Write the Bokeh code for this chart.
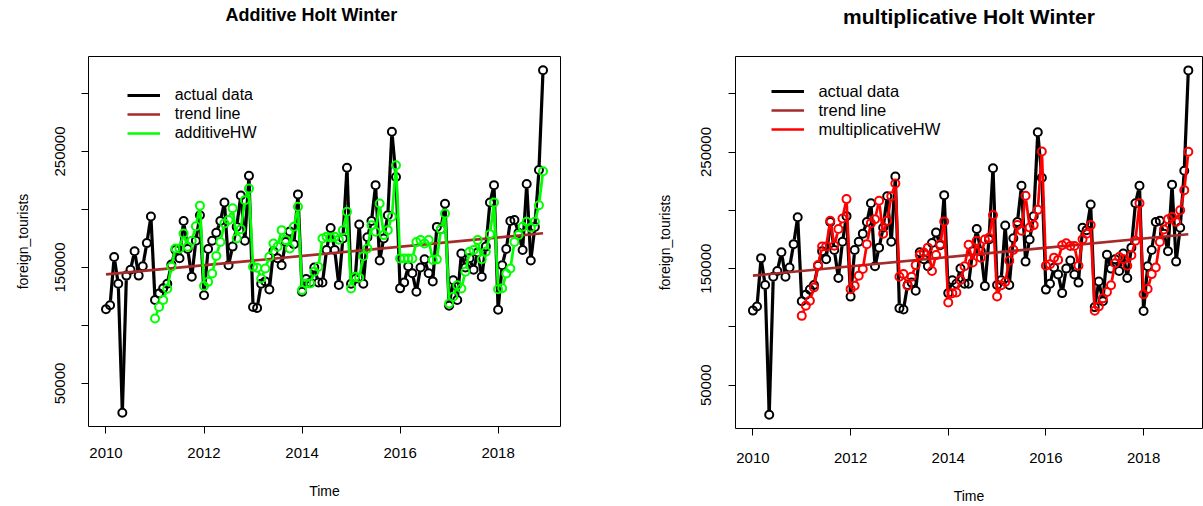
import math
import numpy as np
from bokeh.plotting import figure
from bokeh.models import (Range1d, FixedTicker, Legend, LegendItem, Title,
                          ColumnDataSource, BasicTickFormatter)
from bokeh.layouts import row
from bokeh.embed import file_html
from bokeh.resources import INLINE

# ---------------- data ----------------
start_year = 2010
fit_start = 12  # Holt-Winters fitted values start one season later

actual = [
    114000, 117500, 159000, 136000, 24700, 143000, 148000, 164000, 143000, 151000, 171000, 194000,
    122000, 127500, 132000, 136000, 152500, 165000, 158000, 190000, 166000, 142000, 173000, 195000,
    126000, 166000, 173000, 180000, 190000, 206000, 152000, 168000, 185000, 212000, 173000, 229000,
    116000, 115000, 136000, 138000, 131000, 164000, 158000, 152000, 172000, 181000, 170000, 213000,
    129000, 140000, 137000, 150000, 137000, 137000, 165000, 184000, 165000, 135000, 175000, 236000,
    136000, 140000, 187000, 136000, 176000, 190000, 221000, 156000, 175000, 195000, 267000, 228000,
    132000, 137000, 151000, 145000, 129000, 150000, 157000, 145000, 138000, 185000, 183000, 205000,
    117000, 139000, 122000, 162000, 150000, 158000, 148000, 163000, 142000, 168000, 206000, 221000,
    113600, 152000, 166000, 190000, 191000, 180000, 165000, 222000, 156000, 185000, 234000, 320000,
]

additive_hw = [
    106000, 116000, 122000, 131600, 150600, 166400, 166400, 179300, 167800, 173000, 185600, 203300,
    134000, 137600, 144800, 160000, 172000, 188000, 191000, 201000, 175000, 183000, 208000, 218000,
    150600, 149700, 140500, 149100, 159200, 170700, 167800, 182200, 173600, 166400, 185100, 202300,
    130500, 136200, 136200, 146300, 150600, 175000, 176400, 175900, 176400, 174000, 182000, 198000,
    131900, 142000, 141100, 159700, 166400, 186500, 180800, 205200, 177900, 182200, 193700, 238200,
    157800, 157800, 157800, 157800, 172000, 173600, 170700, 173600, 156400, 157000, 183000, 196600,
    119000, 124700, 134700, 131900, 146300, 163500, 165000, 173600, 157100, 163500, 178600, 206000,
    131300, 132100, 144800, 149100, 172000, 178000, 185100, 189400, 184300, 189400, 203700, 233000,
]

multiplicative_hw = [
    109500, 118100, 122400, 133800, 153000, 169000, 169000, 191000, 169600, 183900, 193000, 209600,
    132400, 135300, 143900, 149600, 171000, 189000, 192400, 208200, 180000, 191000, 212000, 223000,
    143000, 145300, 135300, 143000, 153000, 161600, 163900, 168000, 148000, 161600, 171000, 190400,
    120900, 128900, 129500, 140300, 152000, 170500, 155300, 173900, 159400, 175000, 176400, 195900,
    126100, 135700, 138500, 156700, 166100, 187300, 182500, 212500, 185300, 187300, 200400, 250400,
    152400, 153800, 159400, 157500, 170000, 171700, 169400, 169400, 152400, 175200, 180000, 187300,
    113800, 117600, 124500, 130000, 135700, 154600, 160000, 158300, 152400, 161500, 173900, 206000,
    128000, 132500, 145300, 151000, 172900, 183500, 192400, 194300, 190000, 200100, 217300, 250200,
]

trend_years = [2010.0, 2018 + 11 / 12]
trend_values = [144000, 179500]

x_ticks = [2010, 2012, 2014, 2016, 2018]
y_ticks = [50000, 100000, 150000, 200000, 250000, 300000]
y_labeled = [50000, 150000, 250000]

months = start_year + np.arange(len(actual)) / 12.0
fit_months = months[fit_start:]

FONT = "Liberation Sans"
Y0, Y1 = 12900, 331900
X0 = 2009.643


def gapped(t, v, kx, ky, r):
    """Line pieces between consecutive points, leaving a gap around each point (R type='b')."""
    xs0, ys0, xs1, ys1 = [], [], [], []
    for i in range(len(t) - 1):
        dx = (t[i + 1] - t[i]) * kx
        dy = (v[i + 1] - v[i]) * ky
        L = math.hypot(dx, dy)
        if L <= 2 * r:
            continue
        f = r / L
        xs0.append(t[i] + (t[i + 1] - t[i]) * f)
        ys0.append(v[i] + (v[i + 1] - v[i]) * f)
        xs1.append(t[i + 1] - (t[i + 1] - t[i]) * f)
        ys1.append(v[i + 1] - (v[i + 1] - v[i]) * f)
    return ColumnDataSource(dict(x0=xs0, y0=ys0, x1=xs1, y1=ys1))


def panel(title, fit, color, fit_label, g):
    x1 = X0 + g["fw"] / g["ppy"]
    p = figure(frame_width=g["fw"], frame_height=g["fh"],
               min_border_left=g["bl"], min_border_right=g["br"],
               min_border_top=g["bt"], min_border_bottom=g["bb"],
               x_range=Range1d(X0, x1), y_range=Range1d(Y0, Y1),
               output_backend="svg", toolbar_location=None)
    p.background_fill_color = "white"
    p.border_fill_color = "white"
    p.outline_line_color = "black"
    p.outline_line_width = 1
    p.xgrid.visible = False
    p.ygrid.visible = False

    # main title, lifted away from the frame by a blank spacer title
    p.title.text = title
    p.title.text_font = FONT
    p.title.text_font_style = "bold"
    p.title.text_font_size = g["title_size"]
    p.title.text_color = "black"
    p.title.align = g["title_align"]
    p.title.offset = g["title_offset"]
    p.title.standoff = 0
    p.add_layout(Title(text=" ", text_font_size="10px", standoff=g["title_lift"]), "above")

    for ax in (p.xaxis[0], p.yaxis[0]):
        ax.axis_line_color = None
        ax.major_tick_out = 7
        ax.major_tick_in = 0
        ax.minor_tick_out = 0
        ax.minor_tick_in = 0
        ax.major_tick_line_color = "black"
        ax.major_label_text_font = FONT
        ax.major_label_text_font_size = "15px"
        ax.major_label_text_color = "black"
        ax.axis_label_text_font = FONT
        ax.axis_label_text_font_size = "14px"
        ax.axis_label_text_font_style = "normal"
        ax.axis_label_text_color = "black"

    p.xaxis.ticker = FixedTicker(ticks=x_ticks, minor_ticks=[])
    p.xaxis.major_label_standoff = g["xtick_standoff"]
    p.xaxis.axis_label = "Time"
    p.xaxis.axis_label_standoff = 22

    p.yaxis.ticker = FixedTicker(ticks=y_ticks, minor_ticks=[])
    p.yaxis.formatter = BasicTickFormatter(use_scientific=False)
    p.yaxis.major_label_overrides = {t: "" for t in y_ticks if t not in y_labeled}
    p.yaxis.major_label_orientation = "vertical"
    p.yaxis.major_label_standoff = g["ytick_standoff"]
    p.yaxis.axis_label = "foreign_tourists"
    p.yaxis.axis_label_standoff = g["ylab_standoff"]

    kx = g["ppy"]
    ky = g["fh"] / (Y1 - Y0)
    r = 4.6

    # actual data (type "b")
    act_seg = p.segment("x0", "y0", "x1", "y1", source=gapped(months, actual, kx, ky, r),
                        line_color="black", line_width=3.2)
    p.scatter(months, actual, marker="circle", size=8, line_color="black",
              line_width=2, fill_alpha=0)
    # trend line
    trend = p.line(trend_years, trend_values, line_color="#A52A2A", line_width=2.7)
    # Holt-Winters fitted
    fit_seg = p.segment("x0", "y0", "x1", "y1", source=gapped(fit_months, fit, kx, ky, r),
                        line_color=color, line_width=2.7)
    p.scatter(fit_months, fit, marker="circle", size=8, line_color=color,
              line_width=2, fill_alpha=0)

    leg = Legend(items=[LegendItem(label="actual data", renderers=[act_seg]),
                        LegendItem(label="trend line", renderers=[trend]),
                        LegendItem(label=fit_label, renderers=[fit_seg])],
                 location=g["legend_xy"], border_line_color=None,
                 background_fill_alpha=0, padding=0, margin=0,
                 spacing=g["legend_spacing"],
                 glyph_width=33, glyph_height=16, label_height=16,
                 label_standoff=g["label_standoff"],
                 label_text_font=FONT, label_text_font_size=g["legend_size"],
                 label_text_color="black")
    p.add_layout(leg)
    return p


left_geom = dict(fw=472, fh=370, bl=88, br=41, bt=53, bb=83, ppy=472 / 9.63,
                 title_size="18px", title_align="left", title_offset=137, title_lift=19,
                 legend_xy=(38.7, 284.5), legend_spacing=1, label_standoff=15,
                 legend_size="16px", ylab_standoff=22, xtick_standoff=14,
                 ytick_standoff=16)
right_geom = dict(fw=467, fh=372, bl=134, br=1, bt=56, bb=78, ppy=48.83,
                  title_size="21px", title_align="center", title_offset=0, title_lift=16,
                  legend_xy=(36.4, 289.5), legend_spacing=0, label_standoff=14,
                  legend_size="16.5px", ylab_standoff=26, xtick_standoff=17,
                  ytick_standoff=17)

p1 = panel("Additive Holt Winter", additive_hw, "#00FF00", "additiveHW", left_geom)
p2 = panel("multiplicative Holt Winter", multiplicative_hw, "#FF0000", "multiplicativeHW", right_geom)

layout = row(p1, p2)
open("out.html", "w").write(file_html(layout, INLINE))
